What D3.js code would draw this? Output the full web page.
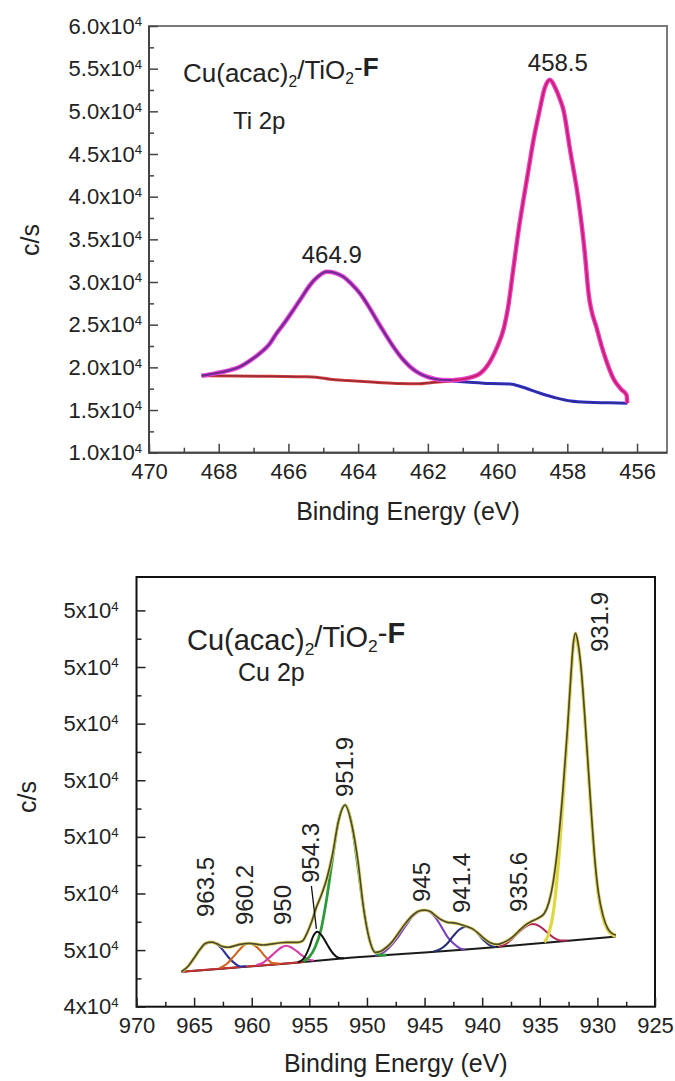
<!DOCTYPE html>
<html>
<head>
<meta charset="utf-8">
<script src="https://cdn.jsdelivr.net/npm/d3@7"></script>
<style>
  body { margin: 0; background: #fff; }
  svg text { font-family: "Liberation Sans", Arial, Helvetica, sans-serif; fill: #222; }
</style>
</head>
<body>
<svg id="chart" width="675" height="1081"></svg>
<script>
// ---------- Ti 2p spectrum ----------
const tiTicksY = [10000, 15000, 20000, 25000, 30000, 35000, 40000, 45000, 50000, 55000, 60000];
const tiMinorY = [12500, 17500, 22500, 27500, 32500, 37500, 42500, 47500, 52500, 57500];
const tiTicksX = [470, 468, 466, 464, 462, 460, 458, 456];
const tiMinorX = [469, 467, 465, 463, 461, 459, 457];

// measured envelope, Ti 2p1/2 region (binding energy eV, counts/s)
const tiLeftPeak = [
  [468.49, 19023], [468.1, 19300], [467.7, 19650], [467.39, 20077], [467.1, 20800],
  [466.82, 21648], [466.55, 22700], [466.34, 23991], [466.1, 25300], [465.86, 26722],
  [465.62, 28200], [465.38, 29650], [465.15, 30650], [464.9, 31210], [464.65, 31050],
  [464.43, 30624], [464.2, 29800], [463.95, 28680], [463.7, 27150], [463.47, 25550],
  [463.23, 23950], [462.99, 22420], [462.75, 21100], [462.51, 20077], [462.27, 19350],
  [462.03, 18905], [461.8, 18650], [461.56, 18519], [461.3, 18500]
];
// measured envelope, Ti 2p3/2 region
const tiRightPeak = [
  [461.3, 18500], [460.9, 18700], [460.5, 19300], [460.2, 20800], [460.0, 22500],
  [459.82, 24600], [459.7, 27000], [459.55, 31500], [459.4, 36000], [459.26, 39590],
  [459.1, 43500], [458.97, 46640], [458.8, 50000], [458.65, 52700], [458.5, 53700],
  [458.35, 52800], [458.2, 51300], [458.11, 50150], [457.92, 45460], [457.68, 39590],
  [457.5, 33500], [457.39, 28680], [457.15, 24500], [456.9, 21000], [456.68, 18700],
  [456.45, 17400], [456.3, 16760], [456.28, 15800]
];
// Shirley backgrounds
const tiBgHigh = [
  [468.49, 19023], [467.5, 19000], [466.5, 18950], [465.5, 18900], [465.2, 18850],
  [464.8, 18600], [464.3, 18450], [463.5, 18250], [462.8, 18100], [462.3, 18080],
  [461.8, 18250], [461.3, 18400]
];
const tiBgLow = [
  [461.3, 18400], [460.8, 18250], [460.2, 18100], [459.64, 18050], [459.3, 17700],
  [458.8, 17000], [458.3, 16400], [457.9, 16050], [457.4, 15900], [456.8, 15850], [456.28, 15800]
];
const tiPeakLabels = [
  { label: "464.9", e: 464.9, v: 31210 },
  { label: "458.5", e: 458.5, v: 53700 }
];

// ---------- Cu 2p spectrum ----------
const cuTicksY = [44000, 45000, 46000, 47000, 48000, 49000, 50000, 51000];
const cuMinorY = [44500, 45500, 46500, 47500, 48500, 49500, 50500];
const cuTicksX = [970, 965, 960, 955, 950, 945, 940, 935, 930, 925];
const cuMinorX = [967.5, 962.5, 957.5, 952.5, 947.5, 942.5, 937.5, 932.5, 927.5];

const cuBaseline = [
  [966.1, 44617], [955.5, 44790], [952.2, 44853], [947, 44930], [942, 45000],
  [938.5, 45060], [934, 45140], [928.4, 45240]
];
const cuEnvelope = [
  [966.1, 44617], [965.5, 44720], [965, 44860], [964.5, 45010], [964, 45120], [963.5, 45140],
  [963, 45110], [962.5, 45060], [962, 45050], [961.5, 45075], [961, 45100], [960.2, 45120],
  [959.5, 45100], [959, 45090], [958.5, 45100], [958, 45115], [957.5, 45130], [957, 45136],
  [956.5, 45136], [956, 45136], [955.6, 45160], [955.2, 45300], [954.8, 45500], [954.4, 45750],
  [954, 45950], [953.5, 46250], [953, 46680], [952.5, 47250], [951.9, 47560], [951.3, 47200],
  [950.8, 46600], [950.3, 45750], [949.8, 45200], [949.3, 44960], [948.8, 44980], [948.3, 45050],
  [947.8, 45150], [947.3, 45290], [946.7, 45460], [946, 45620], [945.5, 45690], [945, 45705],
  [944.5, 45680], [944, 45600], [943.5, 45530], [943, 45490], [942.5, 45480], [942, 45460],
  [941.4, 45420], [940.8, 45370], [940.3, 45290], [939.8, 45200], [939.3, 45130], [938.7, 45100],
  [938.2, 45130], [937.7, 45180], [937.2, 45260], [936.7, 45360], [936.2, 45450], [935.6, 45520],
  [935, 45580], [934.6, 45650], [934.2, 45850], [933.8, 46250], [933.4, 46900], [933, 47800],
  [932.6, 48900], [932.3, 49850], [932.1, 50400], [931.9, 50600], [931.7, 50450], [931.4, 49950],
  [931.1, 49150], [930.8, 48250], [930.5, 47350], [930.2, 46550], [929.9, 46000], [929.5, 45600],
  [929.1, 45380], [928.7, 45290], [928.4, 45265]
];
// fitted components
const cu963_5 = [
  [966.1, 44617], [965.5, 44720], [965, 44850], [964.5, 45000], [964, 45110], [963.5, 45140],
  [963, 45100], [962.5, 45000], [962, 44870], [961.5, 44770], [961, 44710], [960.5, 44712]
];
const cu960_2 = [
  [962.8, 44680], [962.2, 44750], [961.6, 44880], [961, 45020], [960.6, 45095], [960.2, 45118],
  [959.8, 45090], [959.3, 45000], [958.8, 44880], [958.2, 44770], [957.6, 44760]
];
const cu957 = [
  [959.6, 44735], [959, 44780], [958.4, 44880], [957.8, 44990], [957.4, 45050], [957, 45076],
  [956.6, 45050], [956.1, 44980], [955.6, 44900], [955, 44830], [954.6, 44815]
];
const cu954_3 = [
  [956.0, 44786], [955.5, 44850], [955, 45050], [954.7, 45230], [954.3, 45323], [953.9, 45250],
  [953.4, 45080], [952.9, 44930], [952.4, 44860], [952, 44856]
];
const cu951_9 = [
  [955.5, 44800], [955, 44880], [954.5, 45050], [954, 45350], [953.5, 45900], [953, 46600],
  [952.5, 47250], [951.9, 47560], [951.3, 47200], [950.8, 46500], [950.3, 45750], [949.8, 45200],
  [949.3, 44960], [948.8, 44910], [948.3, 44915]
];
const cu945 = [
  [949.3, 44900], [948.5, 44970], [948, 45060], [947.3, 45230], [946.6, 45440], [946, 45600],
  [945.5, 45680], [945, 45705], [944.5, 45670], [944, 45560], [943.5, 45400], [943, 45230],
  [942.5, 45120], [942, 45040], [941.5, 45010]
];
const cu941_4 = [
  [944.2, 44975], [943.6, 45020], [943, 45120], [942.5, 45250], [942, 45360], [941.4, 45411],
  [940.8, 45370], [940.3, 45270], [939.8, 45160], [939.3, 45080], [938.8, 45055]
];
const cu935_6 = [
  [938.6, 45060], [938, 45100], [937.4, 45200], [936.8, 45320], [936.2, 45420], [935.6, 45460],
  [935, 45420], [934.4, 45320], [933.8, 45220], [933.2, 45170], [932.6, 45170]
];
const cu931_9 = [
  [934.6, 45140], [934.2, 45300], [933.8, 45700], [933.4, 46500], [933, 47600], [932.6, 48800],
  [932.3, 49800], [932.1, 50350], [931.9, 50560], [931.7, 50400], [931.4, 49900], [931.1, 49100],
  [930.8, 48200], [930.5, 47300], [930.2, 46500], [929.9, 45950], [929.5, 45550], [929.1, 45350],
  [928.7, 45270], [928.4, 45245]
];
const cuPeakLabels = [
  { label: "963.5", e: 963.5 }, { label: "960.2", e: 960.2 }, { label: "950", e: 957.0 },
  { label: "954.3", e: 954.3 }, { label: "951.9", e: 951.9 }, { label: "945", e: 945 },
  { label: "941.4", e: 941.4 }, { label: "935.6", e: 935.6 }, { label: "931.9", e: 931.9 }
];

// ---------- drawing ----------
const svg = d3.select("#chart");
const sup4 = (sel, fmt) => sel.each(function (d) {
  const t = d3.select(this);
  t.text(fmt(d));
  t.append("tspan").attr("dy", "-0.55em").attr("font-size", "0.6em").text("4");
});

function styleAxis(g, color, fs) {
  g.attr("font-family", null).attr("font-size", fs).attr("color", color);
  g.select(".domain").remove();
  g.selectAll(".tick line").attr("stroke-width", 1.5);
  g.selectAll(".tick text").style("fill", "#222");
}

function title(g, x, y, fs) {
  const t = g.append("text").attr("x", x).attr("y", y).attr("font-size", fs);
  t.append("tspan").text("Cu(acac)");
  t.append("tspan").attr("dy", "0.3em").attr("font-size", "0.6em").text("2");
  t.append("tspan").attr("dy", "-0.3em").text("/TiO");
  t.append("tspan").attr("dy", "0.3em").attr("font-size", "0.6em").text("2");
  t.append("tspan").attr("dy", "-0.3em").text("-");
  t.append("tspan").attr("font-weight", "bold").text("F");
}

// ---- Ti 2p panel ----
{
  const L = 149, R = 667, T = 26, B = 452.7;
  const x = d3.scaleLinear().domain([470, 455.14]).range([L, R]);
  const y = d3.scaleLinear().domain([10000, 60000]).range([B, T]);
  const g = svg.append("g");
  const line = d3.line().x(d => x(d[0])).y(d => y(d[1])).curve(d3.curveMonotoneX);

  g.append("rect").attr("x", L).attr("y", T).attr("width", R - L).attr("height", B - T)
    .attr("fill", "none").attr("stroke", "#7a7a7a").attr("stroke-width", 2);

  g.append("g").attr("transform", `translate(${L},0)`)
    .call(d3.axisLeft(y).tickValues(tiMinorY).tickSize(-5).tickFormat(""))
    .call(a => styleAxis(a, "#444", 22));
  g.append("g").attr("transform", `translate(${L},0)`)
    .call(d3.axisLeft(y).tickValues(tiTicksY).tickSize(-9).tickPadding(7))
    .call(a => styleAxis(a, "#444", 22))
    .call(a => sup4(a.selectAll(".tick text"), d => (d / 1e4).toFixed(1) + "x10"));
  g.append("g").attr("transform", `translate(0,${B})`)
    .call(d3.axisBottom(x).tickValues(tiMinorX).tickSize(-5).tickFormat(""))
    .call(a => styleAxis(a, "#444", 22));
  g.append("g").attr("transform", `translate(0,${B})`)
    .call(d3.axisBottom(x).tickValues(tiTicksX).tickSize(-9).tickPadding(11).tickFormat(d3.format("d")))
    .call(a => styleAxis(a, "#444", 22));
  g.append("path").attr("d", `M${L},${T}V${B}H${R}`).attr("fill", "none")
    .attr("stroke", "#444").attr("stroke-width", 2);

  // backgrounds
  g.append("path").datum(tiBgHigh).attr("d", line).attr("fill", "none")
    .attr("stroke", "#d83a3a").attr("stroke-width", 3);
  g.append("path").datum(tiBgHigh).attr("d", line).attr("fill", "none")
    .attr("stroke", "#8a2d3a").attr("stroke-width", 1.2);
  g.append("path").datum(tiBgLow).attr("d", line).attr("fill", "none")
    .attr("stroke", "#2a2ad8").attr("stroke-width", 3);
  g.append("path").datum(tiBgLow).attr("d", line).attr("fill", "none")
    .attr("stroke", "#35307a").attr("stroke-width", 1.2);

  // fitted peaks with measured trace
  g.append("path").datum(tiLeftPeak).attr("d", line).attr("fill", "none")
    .attr("stroke", "#ee44dd").attr("stroke-width", 4.5);
  g.append("path").datum(tiLeftPeak).attr("d", line).attr("fill", "none")
    .attr("stroke", "#6e2c8e").attr("stroke-width", 2.2);
  g.append("path").datum(tiRightPeak).attr("d", line).attr("fill", "none")
    .attr("stroke", "#ee40c8").attr("stroke-width", 4.5);
  g.append("path").datum(tiRightPeak).attr("d", line).attr("fill", "none")
    .attr("stroke", "#c8206e").attr("stroke-width", 2);

  const nudge = { "464.9": 5, "458.5": 8 };
  g.selectAll(".plabel").data(tiPeakLabels).join("text")
    .attr("x", d => x(d.e) + nudge[d.label]).attr("y", d => y(d.v) - 9)
    .attr("text-anchor", "middle").attr("font-size", 24).text(d => d.label);

  title(g, 183, 82, 26);
  g.append("text").attr("x", 233).attr("y", 129).attr("font-size", 24).text("Ti 2p");
  g.append("text").attr("x", (L + R) / 2).attr("y", 520).attr("text-anchor", "middle")
    .attr("font-size", 25).text("Binding Energy (eV)");
  g.append("text").attr("transform", "translate(30,240) rotate(-90)").attr("dy", "0.35em")
    .attr("text-anchor", "middle").attr("font-size", 25).text("c/s");
}

// ---- Cu 2p panel ----
{
  const L = 136.5, R = 655, T = 577, B = 1006.7;
  const x = d3.scaleLinear().domain([970, 925]).range([L, R]);
  const y = d3.scaleLinear().domain([44000, 51590]).range([B, T]);
  const g = svg.append("g");
  const line = d3.line().x(d => x(d[0])).y(d => y(d[1])).curve(d3.curveMonotoneX);

  g.append("rect").attr("x", L).attr("y", T).attr("width", R - L).attr("height", B - T)
    .attr("fill", "none").attr("stroke", "#111").attr("stroke-width", 2);

  g.append("g").attr("transform", `translate(${L},0)`)
    .call(d3.axisLeft(y).tickValues(cuMinorY).tickSize(-5).tickFormat(""))
    .call(a => styleAxis(a, "#222", 22));
  g.append("g").attr("transform", `translate(${L},0)`)
    .call(d3.axisLeft(y).tickValues(cuTicksY).tickSize(-9).tickPadding(18))
    .call(a => styleAxis(a, "#222", 22))
    .call(a => sup4(a.selectAll(".tick text"), d => Math.round(d / 1e4) + "x10"));
  g.append("g").attr("transform", `translate(0,${B})`)
    .call(d3.axisBottom(x).tickValues(cuMinorX).tickSize(-5).tickFormat(""))
    .call(a => styleAxis(a, "#222", 22));
  g.append("g").attr("transform", `translate(0,${B})`)
    .call(d3.axisBottom(x).tickValues(cuTicksX).tickSize(-9).tickPadding(11).tickFormat(d3.format("d")))
    .call(a => styleAxis(a, "#222", 22));

  const draw = (data, color, w) => g.append("path").datum(data).attr("d", line)
    .attr("fill", "none").attr("stroke", color).attr("stroke-width", w)
    .attr("stroke-linejoin", "round");

  // background: coloured where the high-energy components sit on it, black elsewhere
  draw(cuBaseline, "#1a1a1a", 2);
  draw(cuBaseline.filter(d => d[0] >= 955.5), "#c83030", 2);

  draw(cu963_5, "#2b2f9a", 2.1);
  draw(cu960_2, "#d0641e", 2.1);
  draw(cu957, "#d83aa8", 2.1);
  draw(cu945, "#7b3fc0", 2.1);
  draw(cu941_4, "#25307a", 2.1);
  draw(cu935_6, "#b0285a", 2.1);
  draw(cu951_9, "#2e9a3a", 2.8);
  draw(cu931_9, "#e0d840", 3.2);
  // envelope: yellow fit under the measured trace
  draw(cuEnvelope, "#e2d868", 3.2);
  draw(cuEnvelope, "#4e4a2e", 1.7);
  draw(cu954_3, "#111", 2);

  const place = {
    "963.5": [-6, 917], "960.2": [-5, 925], "950": [-4, 925], "954.3": [-7, 883],
    "951.9": [0, 797], "945": [-3, 902], "941.4": [-4, 913], "935.6": [-14, 912], "931.9": [24, 652]
  };
  g.selectAll(".plabel").data(cuPeakLabels).join("text")
    .attr("transform", d => `translate(${x(d.e) + place[d.label][0]},${place[d.label][1]}) rotate(-90)`)
    .attr("dy", "0.35em").attr("font-size", 24).text(d => d.label);
  // leader from the 954.3 label down to its peak
  const lead = cuPeakLabels.find(d => d.label === "954.3");
  const leadTop = cu954_3.find(d => d[0] === lead.e);
  g.append("line").attr("x1", x(lead.e) - 6).attr("y1", 886)
    .attr("x2", x(lead.e) - 1).attr("y2", y(leadTop[1]) - 3)
    .attr("stroke", "#111").attr("stroke-width", 1.3);

  title(g, 187, 650, 29);
  g.append("text").attr("x", 238).attr("y", 681).attr("font-size", 25).text("Cu 2p");
  g.append("text").attr("x", (L + R) / 2).attr("y", 1072).attr("text-anchor", "middle")
    .attr("font-size", 25).text("Binding Energy (eV)");
  g.append("text").attr("transform", "translate(27,797) rotate(-90)").attr("dy", "0.35em")
    .attr("text-anchor", "middle").attr("font-size", 25).text("c/s");
}
</script>
</body>
</html>
